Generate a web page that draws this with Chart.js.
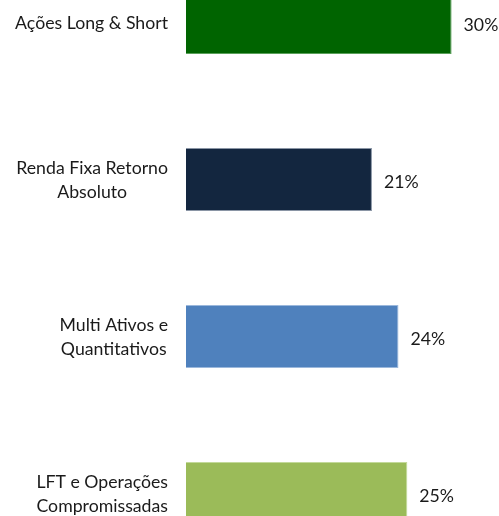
<!DOCTYPE html>
<html>
<head>
<meta charset="utf-8">
<script src="https://cdn.jsdelivr.net/npm/chart.js@4/dist/chart.umd.min.js"></script>
<style>
  html, body { margin: 0; padding: 0; background: #fff; overflow: hidden; }
  #wrap { position: absolute; left: 0; top: -56px; width: 499px; height: 628px; }
</style>
</head>
<body>
<div id="wrap"><canvas id="chart"></canvas></div>
<script>
// categorias (quebras de linha como no original)
const categories = [
  ['Ações Long & Short'],
  ['Renda Fixa Retorno', 'Absoluto'],
  ['Multi Ativos e', 'Quantitativos'],
  ['LFT e Operações', 'Compromissadas']
];
const shares = [30, 21, 24, 25];
const barColors = ['#006400', '#13263f', '#4f81bd', '#9bbb59'];
const borderColors = ['#5aa05a', '#8a95a5', '#9bb8dc', '#c3d99a'];

const FONT = '17.7px Lato';
const TEXT = '#1a1a1a';

// desenha os rótulos de categoria e os valores
const labelsPlugin = {
  id: 'labels',
  afterDatasetsDraw(chart) {
    const ctx = chart.ctx;
    const y = chart.scales.y;
    const meta = chart.getDatasetMeta(0);
    ctx.save();
    ctx.font = FONT;
    ctx.fillStyle = TEXT;
    ctx.textBaseline = 'middle';
    categories.forEach((lines, i) => {
      const cy = y.getPixelForValue(i);
      const lh = 24;
      const maxW = Math.max(...lines.map(l => ctx.measureText(l).width));
      const cx = 168 - maxW / 2;
      ctx.textAlign = 'center';
      lines.forEach((l, k) => {
        ctx.fillText(l, cx, cy + (k - (lines.length - 1) / 2) * lh + 1);
      });
      // valor
      const bar = meta.data[i];
      ctx.textAlign = 'left';
      ctx.fillText(shares[i] + '%', bar.x + 12, cy + 3);
    });
    ctx.restore();
  }
};

new Chart(document.getElementById('chart'), {
  type: 'bar',
  data: {
    labels: categories,
    datasets: [{
      data: shares,
      backgroundColor: barColors,
      borderColor: borderColors,
      borderWidth: 1,
      barPercentage: 0.402,
      categoryPercentage: 1
    }]
  },
  options: {
    indexAxis: 'y',
    responsive: true,
    maintainAspectRatio: false,
    animation: false,
    layout: { padding: { left: 186, right: 4, top: 0, bottom: 0 } },
    plugins: { legend: { display: false }, tooltip: { enabled: false } },
    scales: {
      x: { display: false, min: 0, max: 34.9 },
      y: { display: false }
    }
  },
  plugins: [labelsPlugin]
});
</script>
</body>
</html>
